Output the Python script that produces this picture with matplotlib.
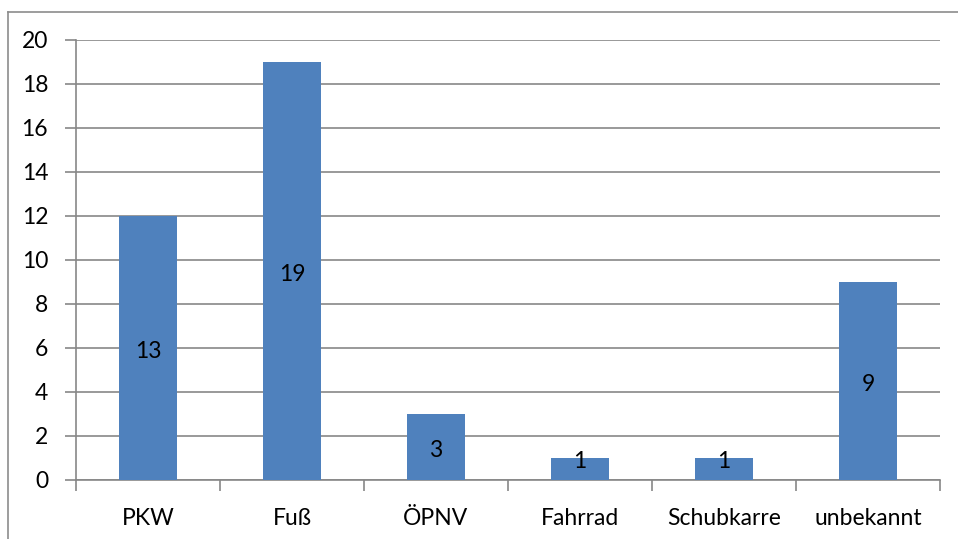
import matplotlib.pyplot as plt
import numpy as np
from matplotlib.lines import Line2D

categories = ['PKW', 'Fuß', 'ÖPNV', 'Fahrrad', 'Schubkarre', 'unbekannt']
bar_values = [12, 19, 3, 1, 1, 9]
bar_labels = ['13', '19', '3', '1', '1', '9']
y_ticks = [0, 2, 4, 6, 8, 10, 12, 14, 16, 18, 20]

plt.rcParams['font.family'] = ['Lato', 'DejaVu Sans']

bar_color = '#4F81BD'
grid_color = '#878787'

fig = plt.figure(figsize=(9.58, 5.39), dpi=100)
ax = fig.add_axes([76 / 958, 1 - 480 / 539, 864 / 958, 440 / 539])

# outer chart border
fig.add_artist(Line2D([8 / 958, 8 / 958], [0, 1 - 12 / 539], color='#8c8c8c', lw=1.2))
fig.add_artist(Line2D([8 / 958, 1], [1 - 12 / 539, 1 - 12 / 539], color='#8c8c8c', lw=1.2))

x = np.arange(len(categories))
ax.bar(x, bar_values, width=0.4, color=bar_color, zorder=3)

for xi, h, lab in zip(x, bar_values, bar_labels):
    ax.text(xi, max(h / 2, 1.0) - 0.15, lab, ha='center', va='center', fontsize=16.5, zorder=4)

ax.set_xlim(-0.5, len(categories) - 0.5)
ax.set_ylim(0, 20)
ax.set_yticks(y_ticks)
ax.yaxis.grid(True, color=grid_color, lw=1.2, zorder=0)

ax.set_xticks(np.arange(-0.5, len(categories), 1.0))
ax.set_xticklabels([])
ax.set_xticks(x, minor=True)
ax.set_xticklabels(categories, minor=True, fontsize=16.5)
ax.tick_params(axis='x', which='major', length=8, width=1.2, color=grid_color, direction='out')
ax.tick_params(axis='x', which='minor', length=0, pad=20)
ax.tick_params(axis='y', length=8, width=1.2, color=grid_color, labelsize=16.5, pad=12)

for side in ['top', 'right']:
    ax.spines[side].set_visible(False)
for side in ['left', 'bottom']:
    ax.spines[side].set_color(grid_color)
    ax.spines[side].set_linewidth(1.2)

fig.savefig('out.png', dpi=100)
